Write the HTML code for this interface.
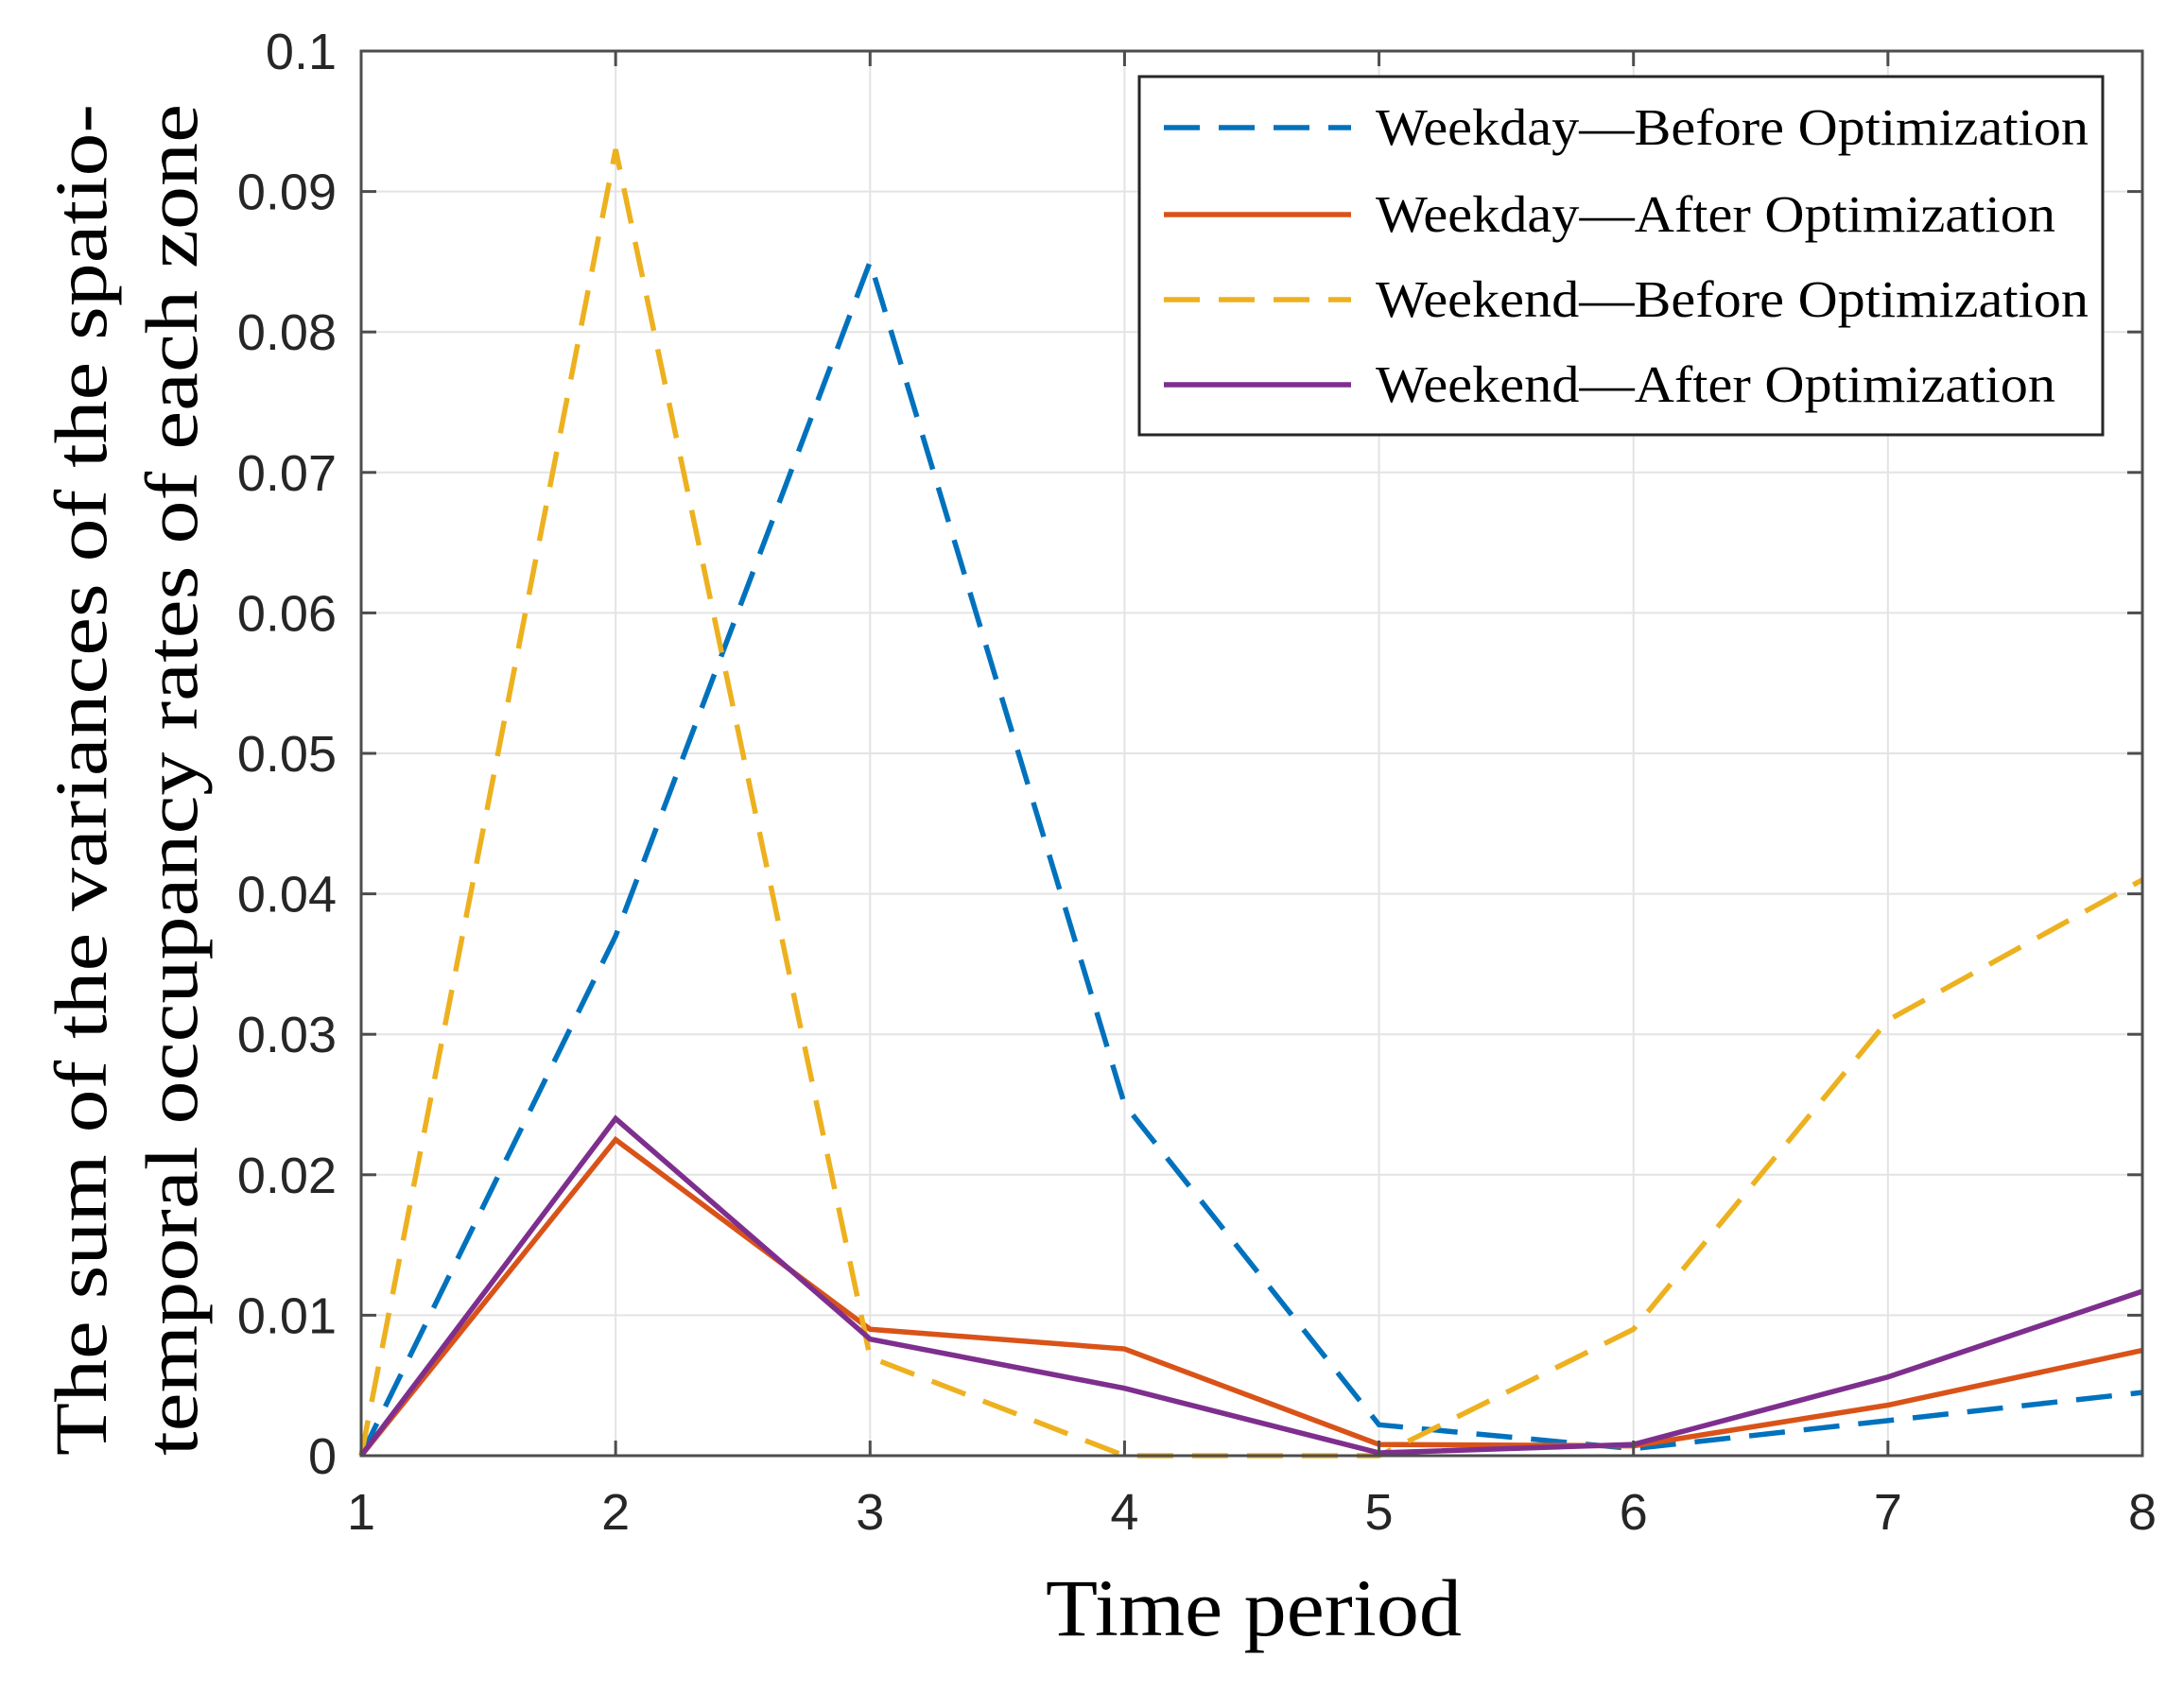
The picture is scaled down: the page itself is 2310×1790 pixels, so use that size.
<!DOCTYPE html>
<html><head><meta charset="utf-8"><style>
html,body{margin:0;padding:0;background:#fff;}
svg{display:block;}
</style></head><body>
<svg id="chart" width="2310" height="1790" viewBox="0 0 2310 1790" xmlns="http://www.w3.org/2000/svg">
<rect x="0" y="0" width="2310" height="1790" fill="#fff"/>
<g id="grid"></g>
<g id="series"></g>
<g id="axes"></g>
<text x="1326" y="1730" font-family="Liberation Serif, serif" font-size="86" text-anchor="middle" fill="#000" textLength="440" lengthAdjust="spacingAndGlyphs">Time period</text>
<g font-family="Liberation Serif, serif" font-size="78" fill="#000" text-anchor="middle">
<text transform="translate(112,825) rotate(-90)" textLength="1430" lengthAdjust="spacingAndGlyphs">The sum of the variances of the spatio-</text>
<text transform="translate(208,825) rotate(-90)" textLength="1430" lengthAdjust="spacingAndGlyphs">temporal occupancy rates of each zone</text>
</g>
<g id="legend"></g>
</svg>
<script>
const categories = [1,2,3,4,5,6,7,8];
const weekdayBefore = [0, 0.037, 0.085, 0.025, 0.0022, 0.0005, 0.0025, 0.0045];
const weekdayAfter  = [0, 0.0225, 0.009, 0.0076, 0.0008, 0.0007, 0.0036, 0.0075];
const weekendBefore = [0, 0.093, 0.007, 0, 0, 0.009, 0.031, 0.041];
const weekendAfter  = [0, 0.024, 0.0083, 0.0048, 0.0002, 0.0008, 0.0056, 0.0117];
const yTicks = [0, 0.01, 0.02, 0.03, 0.04, 0.05, 0.06, 0.07, 0.08, 0.09, 0.1];
const yTickLabels = ["0","0.01","0.02","0.03","0.04","0.05","0.06","0.07","0.08","0.09","0.1"];
const seriesNames = ["Weekday\u2014Before Optimization","Weekday\u2014After Optimization","Weekend\u2014Before Optimization","Weekend\u2014After Optimization"];

const NS = "http://www.w3.org/2000/svg";
const L = 382, R = 2266, T = 54, B = 1540;
const xs = v => L + (v - 1) / 7 * (R - L);
const ys = v => B - v / 0.1 * (B - T);
function mk(tag, attrs, parent){ const e = document.createElementNS(NS, tag); for (const k in attrs) e.setAttribute(k, attrs[k]); parent.appendChild(e); return e; }

const grid = document.getElementById('grid');
const axes = document.getElementById('axes');
categories.forEach(c => {
  const g = mk('line', {x1: xs(c), x2: xs(c), y1: T, y2: B, stroke: '#e3e3e3', 'stroke-width': 2}, grid);
  
  
  const t = mk('line', {x1: xs(c), x2: xs(c), y1: B, y2: B - 16, stroke: '#4d4d4d', 'stroke-width': 3}, axes);
  
  
  const t2 = mk('line', {x1: xs(c), x2: xs(c), y1: T, y2: T + 16, stroke: '#4d4d4d', 'stroke-width': 3}, axes);
  
  
  const lb = mk('text', {x: xs(c), y: B + 78, 'font-family': 'Liberation Sans, sans-serif', 'font-size': 54, 'text-anchor': 'middle', fill: '#262626'}, axes);
  lb.textContent = String(c);
  
  
});
yTicks.forEach((v, i) => {
  const g = mk('line', {x1: L, x2: R, y1: ys(v), y2: ys(v), stroke: '#e3e3e3', 'stroke-width': 2}, grid);
  
  
  const t = mk('line', {x1: L, x2: L + 16, y1: ys(v), y2: ys(v), stroke: '#4d4d4d', 'stroke-width': 3}, axes);
  
  
  const t2 = mk('line', {x1: R, x2: R - 16, y1: ys(v), y2: ys(v), stroke: '#4d4d4d', 'stroke-width': 3}, axes);
  
  
  const lb = mk('text', {x: L - 26, y: ys(v) + 19, 'font-family': 'Liberation Sans, sans-serif', 'font-size': 54, 'text-anchor': 'end', fill: '#262626'}, axes);
  lb.textContent = yTickLabels[i];
  
  
});
const box = mk('rect', {x: L, y: T, width: R - L, height: B - T, fill: 'none', stroke: '#4d4d4d', 'stroke-width': 3}, axes);



const styles = [
  {data: weekdayBefore, color: '#0072BD', dash: '38 20', name: 'weekday-before-line'},
  {data: weekdayAfter,  color: '#D95319', dash: '', name: 'weekday-after-line'},
  {data: weekendBefore, color: '#EDB120', dash: '38 20', name: 'weekend-before-line'},
  {data: weekendAfter,  color: '#7E2F8E', dash: '', name: 'weekend-after-line'}
];
const sg = document.getElementById('series');
styles.forEach(s => {
  const pts = s.data.map((v, i) => xs(categories[i]) + ',' + ys(v)).join(' ');
  const pl = mk('polyline', {points: pts, fill: 'none', stroke: s.color, 'stroke-width': 5.5, 'stroke-linejoin': 'miter'}, sg);
  if (s.dash) pl.setAttribute('stroke-dasharray', s.dash);
  
  
});

const lg = document.getElementById('legend');
const lbox = mk('rect', {x: 1205, y: 81, width: 1019, height: 379, fill: '#fff', stroke: '#262626', 'stroke-width': 3}, lg);


const rows = [135, 227, 317, 407];
const textLens = [754, 719, 754, 719];
styles.forEach((s, i) => {
  const ln = mk('line', {x1: 1231, x2: 1429, y1: rows[i], y2: rows[i], stroke: s.color, 'stroke-width': 5.5}, lg);
  if (s.dash) ln.setAttribute('stroke-dasharray', s.dash);
  
  
  const tx = mk('text', {x: 1455, y: rows[i] + 18, 'font-family': 'Liberation Serif, serif', 'font-size': 55, fill: '#000', textLength: textLens[i], lengthAdjust: 'spacingAndGlyphs'}, lg);
  tx.textContent = seriesNames[i];
  
  
});
</script>
</body></html>
